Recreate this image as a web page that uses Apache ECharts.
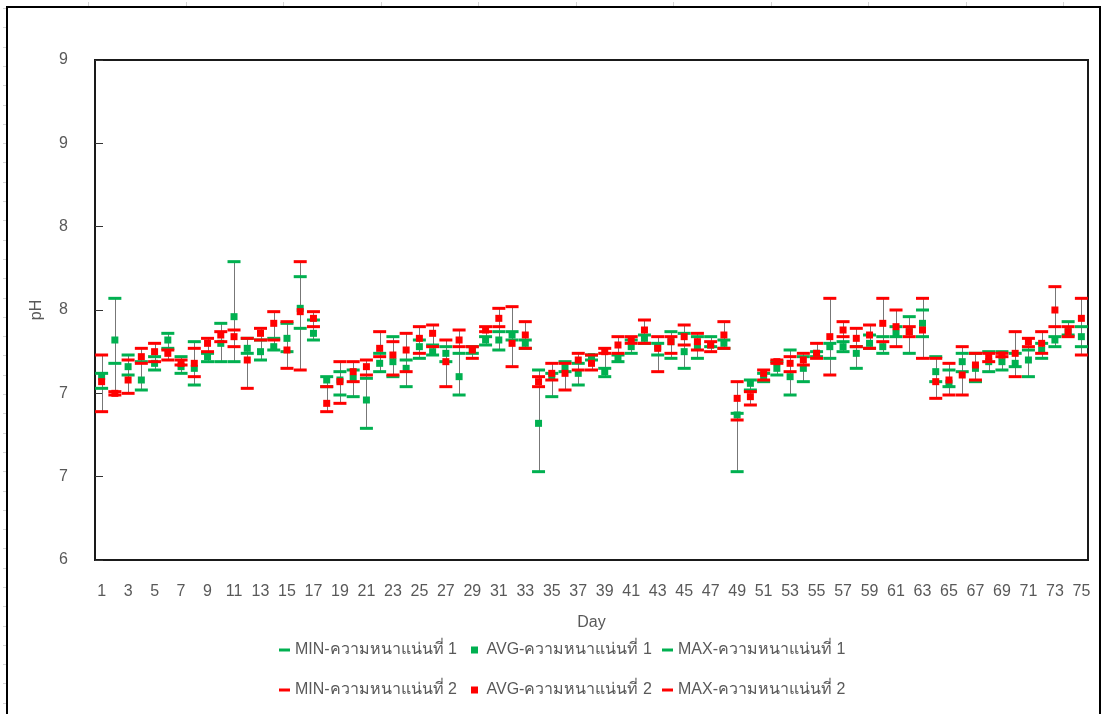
<!DOCTYPE html>
<html>
<head>
<meta charset="utf-8">
<script src="https://cdn.jsdelivr.net/npm/echarts@6.0.0/dist/echarts.min.js"></script>
<style>
  html, body { margin: 0; padding: 0; background: #ffffff; }
  #chart { width: 1105px; height: 714px; }
</style>
</head>
<body>
<div id="chart"></div>
<script>
// Days 1..75
var days = [];
for (var d = 1; d <= 75; d++) days.push(String(d));

// Y tick labels (0.5 steps shown rounded to whole numbers)
var yTickLabels = ['6', '7', '7', '8', '8', '9', '9'];

// Density 1 (green)
var min1 = [7.03,7.18,7.11,7.02,7.14,7.27,7.12,7.05,7.19,7.19,7.19,7.24,7.20,7.26,7.25,7.39,7.32,7.04,6.99,6.98,
            6.79,7.13,7.10,7.04,7.21,7.23,7.19,6.99,7.24,7.29,7.26,7.32,7.27,6.53,6.98,7.13,7.05,7.20,7.10,7.19,
            7.24,7.30,7.23,7.21,7.15,7.21,7.28,7.27,6.53,7.02,7.07,7.11,6.99,7.07,7.22,7.21,7.25,7.15,7.27,7.24,
            7.34,7.24,7.34,7.07,7.04,7.13,7.07,7.13,7.14,7.16,7.10,7.21,7.28,7.35,7.28];
var avg1 = [7.10,7.32,7.16,7.08,7.18,7.32,7.16,7.15,7.22,7.30,7.46,7.27,7.25,7.28,7.33,7.51,7.36,7.08,7.08,7.09,
            6.96,7.18,7.19,7.15,7.28,7.25,7.24,7.10,7.26,7.32,7.32,7.35,7.30,6.82,7.10,7.16,7.12,7.22,7.13,7.21,
            7.28,7.33,7.28,7.31,7.25,7.28,7.29,7.30,6.87,7.06,7.10,7.15,7.10,7.15,7.24,7.28,7.28,7.24,7.30,7.28,
            7.36,7.37,7.42,7.13,7.06,7.19,7.15,7.19,7.19,7.18,7.20,7.26,7.32,7.37,7.34];
var max1 = [7.12,7.57,7.23,7.19,7.22,7.36,7.22,7.31,7.24,7.42,7.79,7.33,7.32,7.33,7.42,7.70,7.44,7.10,7.13,7.14,
            7.09,7.24,7.34,7.20,7.32,7.29,7.28,7.24,7.28,7.34,7.37,7.37,7.32,7.14,7.12,7.19,7.18,7.23,7.15,7.23,
            7.32,7.35,7.30,7.37,7.36,7.34,7.34,7.32,6.88,7.08,7.12,7.19,7.26,7.22,7.25,7.30,7.31,7.28,7.35,7.34,
            7.40,7.46,7.50,7.22,7.14,7.24,7.24,7.25,7.25,7.24,7.26,7.30,7.34,7.43,7.40];

// Density 2 (red)
var min2 = [6.89,6.99,7.00,7.18,7.19,7.20,7.17,7.10,7.25,7.31,7.28,7.03,7.32,7.32,7.15,7.14,7.40,6.89,6.94,7.07,
            7.11,7.22,7.11,7.13,7.24,7.28,7.04,7.28,7.21,7.37,7.40,7.16,7.27,7.04,7.08,7.02,7.14,7.14,7.24,7.24,
            7.30,7.30,7.13,7.24,7.29,7.26,7.25,7.27,6.84,6.93,7.08,7.18,7.13,7.17,7.21,7.11,7.34,7.28,7.27,7.31,
            7.28,7.34,7.21,6.97,6.99,6.99,7.08,7.19,7.22,7.10,7.28,7.24,7.40,7.34,7.23];
var avg2 = [7.07,7.00,7.08,7.22,7.25,7.24,7.18,7.18,7.30,7.35,7.34,7.20,7.36,7.42,7.26,7.49,7.45,6.94,7.07,7.13,
            7.16,7.27,7.23,7.26,7.33,7.36,7.19,7.32,7.26,7.38,7.45,7.30,7.35,7.07,7.12,7.12,7.20,7.18,7.25,7.29,
            7.32,7.38,7.27,7.31,7.34,7.31,7.29,7.35,6.97,6.98,7.12,7.19,7.18,7.20,7.24,7.34,7.38,7.33,7.35,7.42,
            7.40,7.37,7.38,7.07,7.08,7.11,7.17,7.22,7.23,7.24,7.31,7.30,7.50,7.37,7.45];
var max2 = [7.23,7.01,7.20,7.27,7.30,7.26,7.20,7.27,7.33,7.37,7.38,7.33,7.39,7.49,7.43,7.79,7.49,7.04,7.19,7.19,
            7.20,7.37,7.31,7.36,7.40,7.41,7.32,7.38,7.28,7.40,7.51,7.52,7.43,7.10,7.18,7.18,7.24,7.23,7.27,7.34,
            7.34,7.44,7.34,7.34,7.41,7.36,7.31,7.43,7.07,7.01,7.14,7.20,7.22,7.24,7.30,7.57,7.43,7.39,7.41,7.57,
            7.50,7.40,7.57,7.21,7.18,7.28,7.24,7.24,7.24,7.37,7.33,7.37,7.64,7.40,7.57];

var names = [
  'MIN-ความหนาแน่นที่ 1', 'AVG-ความหนาแน่นที่ 1', 'MAX-ความหนาแน่นที่ 1',
  'MIN-ความหนาแน่นที่ 2', 'AVG-ความหนาแน่นที่ 2', 'MAX-ความหนาแน่นที่ 2'
];

var GREEN = '#00b050';
var RED = '#ff0000';
var FONT = '"Liberation Sans", Arial, "Noto Sans", sans-serif';

// High-low line spans every series value of a day
var hiLow = days.map(function (_, i) {
  var vals = [min1[i], avg1[i], max1[i], min2[i], avg2[i], max2[i]];
  return [i, Math.min.apply(null, vals), Math.max.apply(null, vals)];
});

function markSeries(name, data, color, isAvg) {
  return {
    name: name,
    type: 'scatter',
    data: data,
    symbol: 'rect',
    symbolSize: isAvg ? [7, 7] : [13, 3],
    itemStyle: { color: color, opacity: 1 },
    silent: true,
    z: 3
  };
}

function legendItem(name, left, top, isAvg) {
  return {
    data: [name],
    left: left,
    top: top,
    padding: 0,
    itemGap: 0,
    selectedMode: false,
    icon: isAvg ? 'path://M0,0h7v7h-7z' : 'rect',
    itemWidth: isAvg ? 14 : 11,
    itemHeight: isAvg ? 7 : 3,
    itemStyle: { opacity: 1 },
    textStyle: { color: '#595959', fontSize: 16, fontFamily: FONT }
  };
}

// Faint ruler marks along the top and left page margins
var rulerMarks = [];
for (var y = 8; y < 714; y += 19.3) {
  rulerMarks.push({ type: 'line', shape: { x1: 3, y1: Math.round(y) + 0.5, x2: 6, y2: Math.round(y) + 0.5 },
                    style: { stroke: '#d4d4d4', lineWidth: 1 }, silent: true });
}
for (var x = 88; x < 1105; x += 97.5) {
  rulerMarks.push({ type: 'line', shape: { x1: Math.round(x) + 0.5, y1: 2, x2: Math.round(x) + 0.5, y2: 6 },
                    style: { stroke: '#d4d4d4', lineWidth: 1 }, silent: true });
}

var chart = echarts.init(document.getElementById('chart'), null, { renderer: 'canvas' });
chart.setOption({
  animation: false,
  backgroundColor: '#ffffff',
  textStyle: { fontFamily: FONT },
  grid: {
    left: 95, right: 17, top: 60, bottom: 154,
    show: true, borderColor: '#1a1a1a', borderWidth: 2, backgroundColor: 'transparent'
  },
  xAxis: {
    type: 'category',
    data: days,
    boundaryGap: true,
    axisLine: { show: false },
    axisTick: { show: false },
    splitLine: { show: false },
    axisLabel: { interval: 1, margin: 24, fontSize: 16, color: '#595959', fontFamily: FONT },
    name: 'Day',
    nameLocation: 'middle',
    nameGap: 55,
    nameTextStyle: { fontSize: 16, color: '#595959', fontFamily: FONT }
  },
  yAxis: {
    type: 'value',
    min: 6, max: 9, interval: 0.5,
    axisLine: { show: false },
    axisTick: { show: true, inside: true, length: 8, lineStyle: { color: '#333333', width: 1 } },
    splitLine: { show: false },
    axisLabel: {
      margin: 27, fontSize: 16, color: '#595959', fontFamily: FONT,
      formatter: function (v, i) { return yTickLabels[i]; }
    },
    name: 'pH',
    nameLocation: 'middle',
    nameGap: 50,
    nameRotate: 90,
    nameTextStyle: { fontSize: 16, color: '#595959', fontFamily: FONT }
  },
  legend: [
    legendItem(names[0], 279, 642, false),
    legendItem(names[1], 471, 642, true),
    legendItem(names[2], 662, 642, false),
    legendItem(names[3], 279, 682, false),
    legendItem(names[4], 471, 682, true),
    legendItem(names[5], 662, 682, false)
  ],
  graphic: [
    { type: 'rect', shape: { x: 7, y: 7, width: 1093, height: 720 },
      style: { fill: 'none', stroke: '#000000', lineWidth: 2 }, silent: true, z: 100 }
  ].concat(rulerMarks),
  series: [
    {
      type: 'custom',
      silent: true,
      z: 1,
      data: hiLow,
      encode: { x: 0, y: [1, 2] },
      renderItem: function (params, api) {
        var lo = api.coord([api.value(0), api.value(1)]);
        var hi = api.coord([api.value(0), api.value(2)]);
        var cx = Math.round(lo[0]) + 0.5;
        return {
          type: 'line',
          shape: { x1: cx, y1: lo[1], x2: cx, y2: hi[1] },
          style: { stroke: '#777777', lineWidth: 1 }
        };
      }
    },
    markSeries(names[0], min1, GREEN, false),
    markSeries(names[1], avg1, GREEN, true),
    markSeries(names[2], max1, GREEN, false),
    markSeries(names[3], min2, RED, false),
    markSeries(names[4], avg2, RED, true),
    markSeries(names[5], max2, RED, false)
  ]
});
</script>
</body>
</html>
